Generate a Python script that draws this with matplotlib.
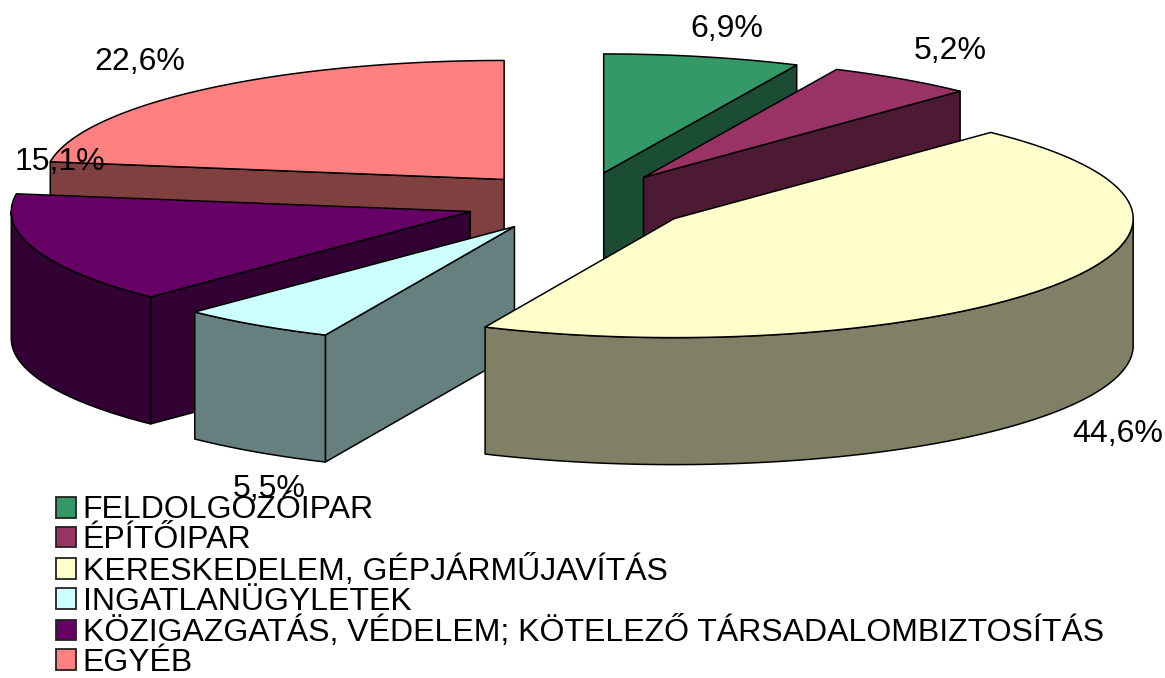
import matplotlib
matplotlib.use('Agg')
import matplotlib.pyplot as plt
import numpy as np
from matplotlib.patches import Patch, Polygon

plt.rcParams['font.family'] = ['Liberation Sans', 'DejaVu Sans']

categories = ['FELDOLGOZÓIPAR', 'ÉPÍTŐIPAR', 'KERESKEDELEM, GÉPJÁRMŰJAVÍTÁS',
              'INGATLANÜGYLETEK', 'KÖZIGAZGATÁS, VÉDELEM; KÖTELEZŐ TÁRSADALOMBIZTOSÍTÁS',
              'EGYÉB']
values = [6.9, 5.2, 44.6, 5.5, 15.1, 22.6]
value_labels = ['6,9%', '5,2%', '44,6%', '5,5%', '15,1%', '22,6%']
top_colors = ['#339966', '#993366', '#FFFFCC', '#CCFFFF', '#660066', '#FF8080']
side_colors = ['#1A4D33', '#4D1A33', '#808066', '#668080', '#330033', '#804040']

# pie geometry in pixels
cx, cy = 579, 202
rx, ry = 459, 119
depth = 127
explode = 0.25
lw = 1.1

# where each percentage goes, pixels from top left
label_pos = [(727, 29), (950, 51), (1118, 434), (269, 489), (60, 162), (140, 62)]

# back slices first so the front ones cover them
draw_order = [5, 0, 1, 4, 3, 2]

fig = plt.figure(figsize=(11.65, 6.78), dpi=100)
ax = fig.add_axes([0, 0, 1, 1])
ax.set_xlim(0, 1165)
ax.set_ylim(678, 0)
ax.axis('off')

total = sum(values)
edges = np.concatenate([[0], np.cumsum(values)]) / total * 2 * np.pi


def rim(x0, y0, a, b):
    t = np.linspace(a, b, 120)
    return np.column_stack([x0 + rx * np.sin(t), y0 - ry * np.cos(t)])


def face(pts, color, z):
    ax.add_patch(Polygon(pts, closed=True, facecolor=color, edgecolor='black',
                         linewidth=lw, joinstyle='round', zorder=z))


for n, i in enumerate(draw_order):
    a, b = edges[i], edges[i + 1]
    mid = (a + b) / 2
    x0 = cx + explode * rx * np.sin(mid)
    y0 = cy - explode * ry * np.cos(mid)
    apex = np.array([[x0, y0]])
    z = n + 1
    drop = np.array([0, depth])

    # cut faces, only the ones turned to the viewer
    for ang, show in ((a, np.sin(a) < -1e-6), (b, np.sin(b) > 1e-6)):
        if show:
            p = rim(x0, y0, ang, ang)[:1]
            face(np.vstack([apex, p, p + drop, apex + drop]), side_colors[i], z)

    # outer wall, front half only
    lo, hi = max(a, np.pi / 2), min(b, 3 * np.pi / 2)
    if hi > lo:
        r = rim(x0, y0, lo, hi)
        face(np.vstack([r, (r + drop)[::-1]]), side_colors[i], z)

    face(np.vstack([apex, rim(x0, y0, a, b)]), top_colors[i], z)

for (x, y), s in zip(label_pos, value_labels):
    ax.text(x, y, s, fontsize=23, ha='center', va='center', color='black', zorder=20)

handles = [Patch(facecolor=c, edgecolor='#222222', linewidth=1.3) for c in top_colors]
leg = ax.legend(handles, categories, loc='upper left', bbox_to_anchor=(56, 495.5),
                bbox_transform=ax.transData, frameon=False, fontsize=23, borderpad=0,
                borderaxespad=0, handlelength=0.62, handleheight=0.62,
                handletextpad=0.22, labelspacing=-0.01)
leg.set_zorder(21)

fig.savefig('out.png', dpi=100)
